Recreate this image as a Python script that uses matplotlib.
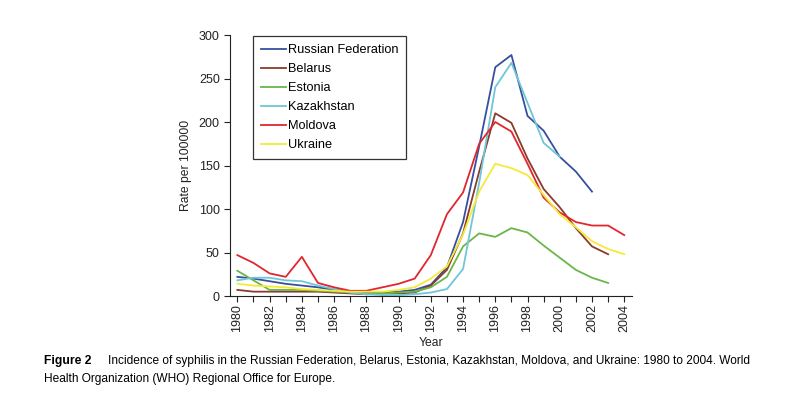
import matplotlib
matplotlib.use("Agg")
import matplotlib.pyplot as plt

plt.rcParams['font.family'] = ['Liberation Sans', 'DejaVu Sans']

years = list(range(1980, 2005))

russia = [22, 20, 17, 14, 12, 10, 7, 5, 4, 4, 5, 7, 13, 33, 85, 172, 263, 277, 207, 190, 160, 143, 120]
belarus = [7, 5, 5, 5, 5, 5, 4, 3, 2, 3, 3, 4, 12, 30, 72, 143, 210, 199, 158, 123, 102, 78, 57, 48]
estonia = [29, 18, 7, 7, 7, 6, 5, 4, 3, 3, 4, 5, 10, 22, 57, 72, 68, 78, 73, 58, 44, 30, 21, 15]
kazakhstan = [18, 21, 21, 18, 17, 12, 8, 4, 2, 1, 1, 2, 4, 8, 31, 130, 240, 268, 222, 176, 160]
moldova = [47, 38, 26, 22, 45, 15, 10, 6, 6, 10, 14, 20, 47, 94, 119, 175, 200, 189, 152, 113, 96, 85, 81, 81, 70]
ukraine = [14, 12, 11, 10, 8, 7, 6, 5, 5, 5, 7, 10, 20, 34, 71, 120, 152, 147, 139, 116, 94, 79, 63, 54, 48]

series = [
    ("Russian Federation", russia, "#36509f"),
    ("Belarus", belarus, "#8c3a2b"),
    ("Estonia", estonia, "#6bb648"),
    ("Kazakhstan", kazakhstan, "#6ec6d9"),
    ("Moldova", moldova, "#e1262d"),
    ("Ukraine", ukraine, "#f4ea38"),
]

fig = plt.figure(figsize=(8.06, 4.08), dpi=100)
ax = fig.add_axes([0.2855, 0.2745, 0.499, 0.6397])

for name, vals, col in series:
    ax.plot(years[:len(vals)], vals, color=col, lw=1.3, label=name)

ax.set_xlim(1979.55, 2004.5)
ax.set_ylim(0, 300)
ax.set_yticks(range(0, 301, 50))
ax.set_xticks(years)
ax.set_xticklabels([str(y) if y % 2 == 0 else "" for y in years], rotation=90)
ax.tick_params(axis='both', direction='out', length=4, width=0.8, labelsize=9, colors='#222222')
ax.tick_params(axis='x', pad=2)
for s in ['top', 'right']:
    ax.spines[s].set_visible(False)
for s in ['left', 'bottom']:
    ax.spines[s].set_linewidth(0.8)
    ax.spines[s].set_color('#222222')

ax.set_ylabel("Rate per 100000", fontsize=8.7, color='#222222', labelpad=5)
ax.set_xlabel("Year", fontsize=8.7, color='#222222', labelpad=3)

leg = ax.legend(loc='upper left', bbox_to_anchor=(0.057, 0.995), frameon=True,
                fancybox=False, edgecolor='black', fontsize=9.2,
                handlelength=2.0, handletextpad=0.15, labelspacing=0.55,
                borderpad=0.6, borderaxespad=0.0)
leg.get_frame().set_linewidth(0.9)

fig.text(0.055, 0.108, "Figure 2", fontsize=8.7, fontweight='bold', ha='left', va='baseline')
fig.text(0.134, 0.108, "Incidence of syphilis in the Russian Federation, Belarus, Estonia, Kazakhstan, Moldova, and Ukraine: 1980 to 2004. World",
         fontsize=8.6, ha='left', va='baseline')
fig.text(0.055, 0.063, "Health Organization (WHO) Regional Office for Europe.",
         fontsize=8.6, ha='left', va='baseline')

fig.savefig("out.png", dpi=100)
